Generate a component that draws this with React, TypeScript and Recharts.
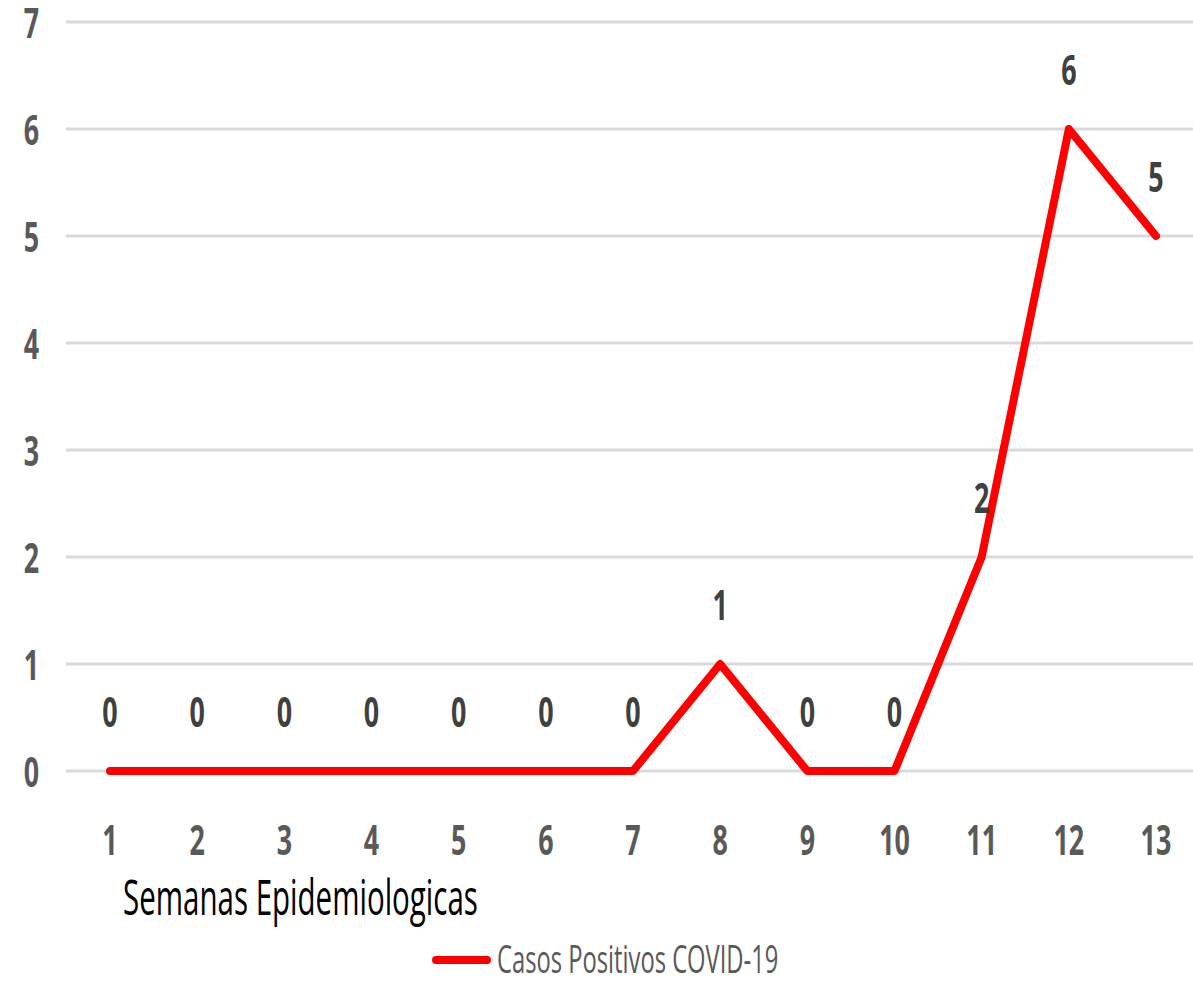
import React from 'react'
import { LineChart, Line, XAxis, YAxis, CartesianGrid, LabelList } from 'recharts'

const weeks = ['1', '2', '3', '4', '5', '6', '7', '8', '9', '10', '11', '12', '13']
const cases = [0, 0, 0, 0, 0, 0, 0, 1, 0, 0, 2, 6, 5]
const yTicks = [0, 1, 2, 3, 4, 5, 6, 7]

const seriesName = 'Casos Positivos COVID-19'
const axisTitle = 'Semanas Epidemiologicas'

const data = weeks.map((w, i) => ({ week: w, cases: cases[i] }))

const FONT = '"Open Sans", "Liberation Sans", sans-serif'

// squeezed text, the original was drawn with a narrow font
function Narrow({ x, y, sx, size, fill, weight, anchor, children }: any) {
  return (
    <text
      x={x / sx}
      y={y}
      transform={`scale(${sx},1)`}
      textAnchor={anchor}
      fontFamily={FONT}
      fontSize={size}
      fontWeight={weight}
      fill={fill}
    >
      {children}
    </text>
  )
}

const XTick = ({ x, payload }: any) => (
  <Narrow x={x} y={855} sx={0.64} size={42} fill="#595959" weight={700} anchor="middle">
    {payload.value}
  </Narrow>
)

const YTick = ({ y, payload }: any) => (
  <Narrow x={39} y={y + 16} sx={0.64} size={42} fill="#595959" weight={700} anchor="end">
    {payload.value}
  </Narrow>
)

const ValueLabel = ({ x, y, value }: any) => (
  <Narrow x={x} y={y - 44} sx={0.64} size={42} fill="#404040" weight={700} anchor="middle">
    {value}
  </Narrow>
)

export default function App() {
  return (
    <div style={{ position: 'absolute', left: 0, top: 0, width: 1193, height: 983, overflow: 'hidden', background: '#fff' }}>
      <LineChart width={1200} height={983} data={data} margin={{ top: 22, right: 0, bottom: 0, left: 0 }}>
        <CartesianGrid vertical={false} stroke="#d9d9d9" strokeWidth={3} />
        <XAxis
          dataKey="week"
          axisLine={false}
          tickLine={false}
          height={212}
          padding={{ left: 44, right: 44 }}
          tick={<XTick />}
          interval={0}
        />
        <YAxis
          domain={[0, 7]}
          ticks={yTicks}
          width={66}
          axisLine={false}
          tickLine={false}
          tick={<YTick />}
        />
        <Line
          dataKey="cases"
          name={seriesName}
          stroke="#ff0000"
          strokeWidth={8}
          strokeLinecap="round"
          strokeLinejoin="round"
          dot={false}
          isAnimationActive={false}
        >
          <LabelList dataKey="cases" content={<ValueLabel />} />
        </Line>
        <Narrow x={123} y={915} sx={0.59} size={50} fill="#000" weight={400} anchor="start">
          {axisTitle}
        </Narrow>
        <line x1={436} y1={960} x2={487} y2={960} stroke="#ff0000" strokeWidth={8} strokeLinecap="round" />
        <Narrow x={497} y={973} sx={0.625} size={38} fill="#595959" weight={400} anchor="start">
          {seriesName}
        </Narrow>
      </LineChart>
    </div>
  )
}
